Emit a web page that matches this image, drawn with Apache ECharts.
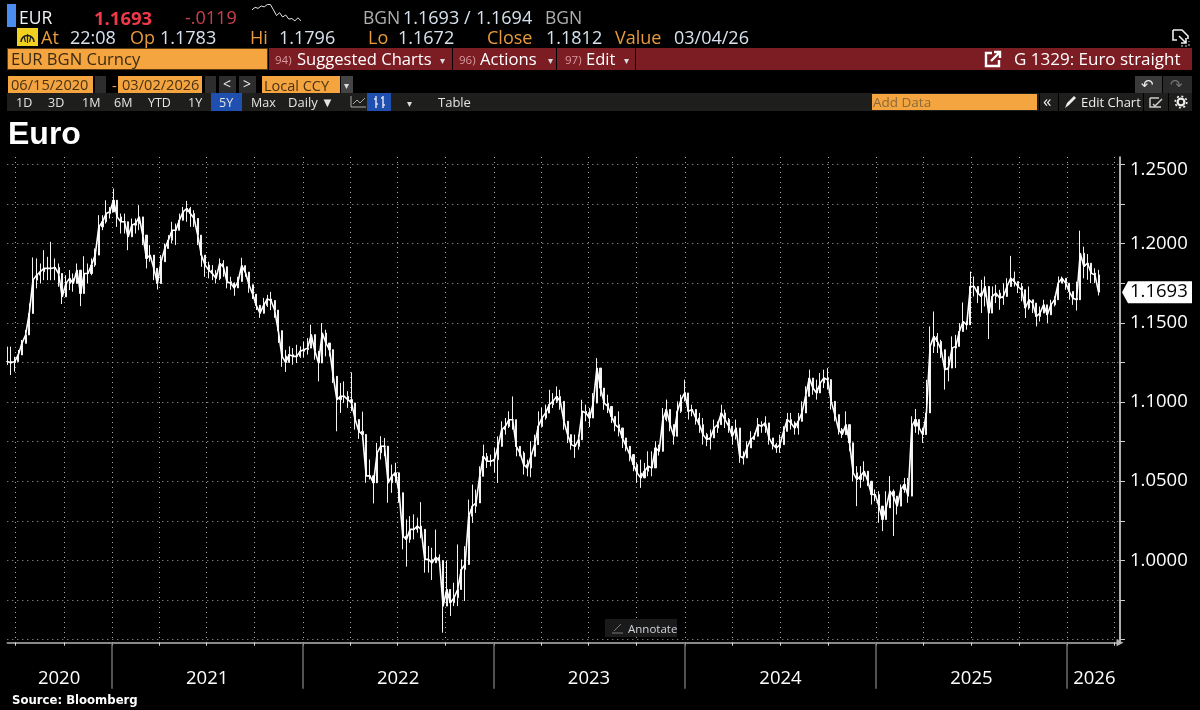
<!DOCTYPE html>
<html>
<head>
<meta charset="utf-8">
<title>Euro</title>
<script src="https://cdn.jsdelivr.net/npm/echarts@6/dist/echarts.min.js"></script>
<style>
    html, body { margin: 0; padding: 0; background: #000; }
    #chart { position: absolute; left: 0; top: 0; width: 1200px; height: 710px; }
    #chrome { position: absolute; left: 0; top: 0; width: 1200px; height: 710px; font-family: "Open Sans", sans-serif; pointer-events: none; }
    #chrome div { position: absolute; white-space: nowrap; }
    #chrome svg { position: absolute; }
</style>
</head>
<body>
<div id="chart"></div>
<div id="chrome"></div>
<script>
// weekly bars, 06/15/2020 to 03/02/2026
var weekHigh = [
    1.1349,1.1349,1.1286,1.1328,1.1391,1.1454,1.1622,1.1912,1.1906,1.1874,1.1958,1.1916,1.2011,1.1906,1.1874,1.1748,1.18,1.1832,1.1811,1.1874,
    1.1811,1.192,1.1874,1.1906,1.1969,1.2179,1.2179,1.2273,1.2231,1.2347,1.2252,1.2189,1.2189,1.2126,1.2158,1.2158,1.2242,1.2126,1.199,1.199,
    1.1906,1.1811,1.1927,1.2,1.2053,1.2137,1.2126,1.2189,1.2231,1.2269,1.2231,1.221,1.2105,1.1979,1.1927,1.1885,1.1864,1.1832,1.1906,1.1895,1.1811,
    1.179,1.1755,1.179,1.191,1.1853,1.1815,1.172,1.1664,1.16,1.1657,1.1676,1.1695,1.1626,1.1537,1.1373,1.1329,
    1.1351,1.134,1.1361,1.1351,1.1382,1.1403,1.1488,1.1372,1.1309,1.1498,1.1456,1.1372,1.1288,1.112,1.112,1.113,1.1068,1.1187,1.0942,1.0868,
    1.0939,1.0647,1.0637,1.0532,1.0742,1.0784,1.0773,1.0532,1.0605,1.0616,1.0469,1.0217,1.0259,1.028,1.0291,1.027,1.0368,1.0049,1.0091,1.008,1.0195,1.0038,
    0.988,1.0,0.9796,0.9859,1.0101,1.0006,1.009,1.0384,1.0479,1.0447,1.0594,1.0731,1.0678,1.0668,1.071,1.0783,1.0878,1.0899,1.0941,1.1035,
    1.0804,1.071,1.0689,1.0636,1.0752,1.0794,1.0941,1.0962,1.0983,1.1077,1.1056,1.1098,1.1077,1.093,1.0846,1.0773,1.0794,1.0794,1.1014,1.0983,
    1.0962,1.1056,1.1277,1.1161,1.1067,1.1046,1.0951,1.0909,1.0941,1.0825,1.0762,1.071,1.0647,1.0615,1.0636,1.0615,1.0689,1.0689,1.0752,1.0731,
    1.0962,1.1015,1.092,1.0836,1.1004,1.1046,1.1141,1.1004,1.0983,1.0941,1.0931,1.0899,1.0805,1.0826,1.0889,1.0878,1.0983,1.0952,1.0899,1.0847,
    1.0889,1.0742,1.0689,1.0752,1.0815,1.0805,1.0899,1.0878,1.091,1.0857,1.0763,1.0742,1.0794,1.0847,1.0931,1.0931,1.0878,1.0931,1.1004,1.1099,
    1.1204,1.1152,1.1141,1.1183,1.1204,1.1214,1.1057,1.0962,1.0878,1.0836,1.0941,1.0805,1.0605,1.0595,1.0595,1.0626,1.0532,1.0458,1.0448,1.0437,
    1.0343,1.0437,1.0532,1.0448,1.0406,1.0479,1.0521,1.0521,1.091,1.0956,1.0878,1.0836,1.114,1.1477,1.1571,1.1435,1.1393,1.133,1.1288,1.1414,
    1.1424,1.1498,1.1628,1.1508,1.1823,1.1792,1.1729,1.1771,1.1792,1.1603,1.1729,1.174,1.1708,1.175,1.1781,1.1922,1.1823,1.176,1.175,1.1645,
    1.1729,1.1645,1.1603,1.1603,1.1645,1.1613,1.1645,1.1666,1.1792,1.1792,1.1781,1.175,1.1697,1.176,1.2081,1.198,1.1934,1.1876,1.1844,1.1834
];
var weekLow = [
    1.1234,1.117,1.1192,1.1255,1.1318,1.137,1.1475,1.1706,1.1717,1.1748,1.1769,1.1769,1.1769,1.1769,1.1727,1.1618,1.1685,1.1706,1.1696,1.1748,
    1.1605,1.1727,1.1748,1.18,1.1853,1.1969,1.2084,1.2126,1.2158,1.221,1.2105,1.2063,1.2063,1.1958,1.2042,1.2063,1.2084,1.199,1.1843,1.1885,
    1.1769,1.171,1.179,1.1895,1.199,1.2,1.199,1.2105,1.2158,1.2137,1.2105,1.2105,1.199,1.1853,1.179,1.178,1.1769,1.1748,1.1769,1.179,1.1717,
    1.1708,1.167,1.1727,1.1815,1.179,1.1689,1.165,1.158,1.1531,1.1569,1.16,1.158,1.1531,1.1373,1.1222,1.119,
    1.1246,1.1235,1.1246,1.1278,1.1283,1.1299,1.1372,1.1267,1.113,1.1372,1.1288,1.1288,1.112,1.0815,1.0931,1.0994,1.0963,1.0942,1.0826,1.0767,
    1.0763,1.049,1.0511,1.036,1.0553,1.0637,1.0658,1.0364,1.0427,1.049,1.0364,1.007,0.9961,1.0112,1.0133,1.0175,1.014,0.9923,0.9923,0.9877,0.9985,0.9964,
    0.9544,0.9712,0.9649,0.9712,0.9712,0.9859,0.9744,1.0216,1.0237,1.03,1.0447,1.0531,1.0584,1.0594,1.0552,1.0489,1.0762,1.0794,1.0836,1.0825,
    1.0657,1.0657,1.0542,1.0531,1.0525,1.0657,1.0762,1.0857,1.0888,1.0941,1.0962,1.0993,1.0951,1.0825,1.0741,1.0699,1.0647,1.0699,1.0846,1.0878,
    1.0842,1.093,1.1119,1.1035,1.0951,1.093,1.0867,1.0815,1.0783,1.071,1.0689,1.0626,1.0563,1.0489,1.0458,1.0521,1.0531,1.0531,1.0668,1.0662,
    1.0836,1.0878,1.0815,1.0731,1.0878,1.0931,1.1004,1.0889,1.091,1.0857,1.0805,1.0731,1.0721,1.07,1.0805,1.0805,1.0878,1.0836,1.0805,1.0731,
    1.0763,1.0616,1.0605,1.0658,1.071,1.0763,1.0815,1.0805,1.0805,1.0731,1.07,1.0679,1.0679,1.0773,1.0847,1.0826,1.0794,1.0794,1.0889,1.0962,
    1.1078,1.1046,1.1015,1.1067,1.1088,1.1078,1.0952,1.0878,1.0794,1.0773,1.0805,1.0689,1.05,1.0343,1.0458,1.05,1.0469,1.0353,1.0374,1.0238,
    1.0185,1.028,1.0385,1.0154,1.029,1.0385,1.0427,1.0364,1.0763,1.0805,1.0794,1.0742,1.0794,1.1246,1.1309,1.1309,1.1278,1.1078,1.113,1.1288,
    1.1214,1.1382,1.1477,1.1456,1.1582,1.1666,1.1624,1.1561,1.1603,1.1397,1.1603,1.1624,1.1582,1.1613,1.1687,1.175,1.1729,1.1687,1.1635,1.153,
    1.1582,1.1561,1.1477,1.1508,1.1561,1.1498,1.1582,1.1603,1.1687,1.175,1.1708,1.1645,1.1613,1.1577,1.1771,1.1781,1.1771,1.175,1.175,1.1672
];
var weekClose = [
    1.1255,1.1248,1.1255,1.1297,1.137,1.1423,1.1559,1.1769,1.18,1.1822,1.1843,1.1843,1.1843,1.1849,1.1811,1.1664,1.1748,1.178,1.1748,1.1832,
    1.1685,1.1811,1.1811,1.1864,1.1927,1.2105,1.2137,1.2189,1.22,1.2273,1.2168,1.2137,1.2137,1.2042,1.2116,1.2126,1.2168,1.2053,1.1906,1.1927,
    1.1843,1.1748,1.1885,1.1969,1.2021,1.2084,1.2084,1.2147,1.22,1.2221,1.2189,1.2158,1.2053,1.1927,1.1864,1.1832,1.1811,1.178,1.1874,1.1853,1.1759,
    1.175,1.172,1.176,1.186,1.182,1.174,1.168,1.161,1.156,1.161,1.165,1.164,1.158,1.145,1.129,1.125,
    1.1299,1.1288,1.1288,1.132,1.133,1.134,1.1425,1.132,1.1246,1.1435,1.1372,1.133,1.1162,1.1015,1.1036,1.1036,1.1015,1.0994,1.0889,1.0815,
    1.0795,1.0534,1.0534,1.049,1.0679,1.0721,1.0721,1.049,1.0532,1.0553,1.0427,1.0154,1.0133,1.0196,1.0196,1.0217,1.0196,1.0007,1.0007,0.9985,1.002,1.0,
    0.9712,0.9817,0.9733,0.9765,0.9817,0.9943,0.9975,1.0279,1.0342,1.0363,1.0531,1.0657,1.0626,1.0626,1.0636,1.072,1.0825,1.0846,1.0888,1.0888,
    1.072,1.0678,1.0605,1.0584,1.0657,1.0731,1.0846,1.0899,1.093,1.0983,1.1004,1.1035,1.1004,1.0878,1.0794,1.0731,1.072,1.0762,1.0941,1.093,
    1.0899,1.0993,1.1214,1.1088,1.0993,1.0972,1.0909,1.0857,1.0836,1.0773,1.072,1.0668,1.0605,1.0552,1.0521,1.0563,1.0594,1.0584,1.071,1.0689,
    1.0889,1.0952,1.0857,1.0784,1.0941,1.1015,1.1057,1.0941,1.0952,1.0899,1.0857,1.0794,1.0763,1.0773,1.0836,1.0857,1.0931,1.0889,1.0847,1.0784,
    1.0836,1.0658,1.0647,1.071,1.0763,1.0784,1.0857,1.0847,1.0868,1.0773,1.0731,1.071,1.0731,1.0815,1.0889,1.0868,1.0836,1.0878,1.0931,1.1036,
    1.1151,1.1088,1.1057,1.112,1.1151,1.1141,1.1004,1.092,1.0826,1.0794,1.0857,1.0742,1.0553,1.0511,1.0532,1.0563,1.05,1.0416,1.0416,1.0343,
    1.0259,1.0332,1.0437,1.0406,1.0343,1.0448,1.0479,1.0406,1.0847,1.0889,1.0836,1.0794,1.0931,1.1351,1.1414,1.1382,1.133,1.1204,1.1214,1.134,
    1.1351,1.1445,1.1508,1.1487,1.1729,1.1729,1.1687,1.1666,1.1729,1.1561,1.1666,1.1687,1.1656,1.1666,1.1729,1.1781,1.176,1.1729,1.1708,1.1593,
    1.1645,1.1624,1.154,1.1561,1.1613,1.155,1.1613,1.1645,1.175,1.1781,1.175,1.1697,1.1655,1.1645,1.1939,1.1855,1.1876,1.1813,1.1802,1.1693
];
var lastPrice = 1.1693;
var sparkValues = [1.1757,1.1775,1.1768,1.1785,1.1779,1.1796,1.1796,1.1757,1.1715,1.1736,1.1704,1.1719,1.1689,1.1693,1.1676,1.1698,1.1676];

var yTickValues = [0.95,0.975,1.0,1.025,1.05,1.075,1.1,1.125,1.15,1.175,1.2,1.225,1.25];
var yLabelValues = [1.0,1.05,1.1,1.15,1.2,1.25];
var quarterTicks = ['2020-07-01','2020-10-01','2021-01-01','2021-04-01','2021-07-01','2021-10-01','2022-01-01','2022-04-01','2022-07-01','2022-10-01',
    '2023-01-01','2023-04-01','2023-07-01','2023-10-01','2024-01-01','2024-04-01','2024-07-01','2024-10-01','2025-01-01','2025-04-01','2025-07-01','2025-10-01','2026-01-01','2026-04-01'];
var yearTicks = ['2021-01-01','2022-01-01','2023-01-01','2024-01-01','2025-01-01','2026-01-01'];
var yearLabelDates = ['2020-09-22','2021-07-02','2022-07-02','2023-07-02','2024-07-02','2025-07-02','2026-02-22'];

function toMs(s) { return new Date(s + 'T00:00:00Z').getTime(); }

var firstWeek = toMs('2020-06-15');
var lastDay = toMs('2026-04-12');
var bars = weekClose.map(function (c, i) {
    var open = i ? weekClose[i - 1] : c;
    return [firstWeek + i * 7 * 86400000, open, c, weekLow[i], weekHigh[i]];
});
var closeLine = bars.map(function (b) { return [b[0], b[2]]; });

var gridDots = { show: true, lineStyle: { color: '#a8a8a8', width: 1, type: [1, 4] } };

var myChart = echarts.init(document.getElementById('chart'));
myChart.setOption({
    backgroundColor: '#000',
    animation: false,
    title: [
        { text: 'Euro', left: 8, top: 119, padding: 0, textStyle: { color: '#fff', fontSize: 32, fontWeight: 'bold', fontFamily: 'Liberation Sans' } },
        { text: 'Source: Bloomberg', left: 12, top: 695, padding: 0, textStyle: { color: '#fff', fontSize: 11.7, fontWeight: 'bold', fontFamily: 'DejaVu Sans' } }
    ],
    grid: [
        { left: 7.3, right: 80, top: 157, bottom: 67.3 },
        { left: 252, width: 49, top: 4, height: 19 }
    ],
    xAxis: [
        {
            type: 'value', gridIndex: 0, min: firstWeek, max: lastDay,
            axisLine: { onZero: false, lineStyle: { color: '#b5b5b5', width: 1.5 }, symbol: ['none', 'triangle'], symbolSize: [7, 7] },
            axisTick: { show: true, length: 3, lineStyle: { color: '#ddd' }, customValues: quarterTicks.map(toMs) },
            axisLabel: { show: false },
            splitLine: gridDots
        },
        {
            type: 'value', gridIndex: 0, position: 'bottom', min: firstWeek, max: lastDay,
            axisLine: { show: false, onZero: false },
            axisTick: { show: true, length: 46, lineStyle: { color: '#6e6e6e', width: 1.5 }, customValues: yearTicks.map(toMs) },
            axisLabel: {
                show: true, margin: 27, color: '#fff', fontSize: 18.5, fontFamily: 'Open Sans',
                customValues: yearLabelDates.map(toMs),
                formatter: function (v) { return String(new Date(v).getUTCFullYear()); }
            },
            splitLine: { show: false }
        },
        { type: 'category', gridIndex: 1, show: false, boundaryGap: false, data: sparkValues.map(function (v, i) { return i; }) }
    ],
    yAxis: [
        {
            type: 'value', gridIndex: 0, position: 'right', min: 0.9481, max: 1.2546,
            axisLine: { show: true, onZero: false, lineStyle: { color: '#e8e8e8', width: 1.5 } },
            axisTick: { show: true, length: 5, lineStyle: { color: '#ccc' }, customValues: yTickValues },
            axisLabel: {
                show: true, margin: 10, color: '#fff', fontSize: 18.5, fontFamily: 'Open Sans',
                customValues: yLabelValues,
                formatter: function (v) {
                    var s = v.toFixed(4);
                    return v === 1.25 ? '{top|' + s + '}' : s;
                },
                rich: { top: { padding: [11, 0, 0, 0], color: '#fff', fontSize: 18.5, fontFamily: 'Open Sans' } }
            },
            splitLine: gridDots
        },
        { type: 'value', gridIndex: 1, show: false, scale: true, splitLine: { show: false } }
    ],
    series: [
        {
            name: 'EUR close', type: 'line', xAxisIndex: 0, yAxisIndex: 0, symbol: 'none',
            lineStyle: { color: '#fff', width: 1.6 }, data: closeLine
        },
        {
            name: 'EUR', type: 'candlestick', xAxisIndex: 0, yAxisIndex: 0,
            barWidth: 1.6,
            encode: { x: 0, y: [1, 2, 3, 4] },
            itemStyle: { color: '#fff', color0: '#fff', borderColor: '#f2f2f2', borderColor0: '#f2f2f2', borderWidth: 1 },
            data: bars
        },
        {
            // last price flag on the value axis
            name: 'last', type: 'custom', xAxisIndex: 0, yAxisIndex: 0, clip: false, z: 5,
            data: [[bars[bars.length - 1][0], lastPrice]],
            encode: { x: 0, y: 1 },
            renderItem: function (params, api) {
                var p = api.coord([api.value(0), api.value(1)]);
                var y = p[1];
                return {
                    type: 'group',
                    children: [
                        { type: 'polygon', shape: { points: [[1122, y], [1128, y - 11], [1192, y - 11], [1192, y + 11], [1128, y + 11]] }, style: { fill: '#fff' } },
                        { type: 'text', x: 1130, y: y, style: { text: api.value(1).toFixed(4), fill: '#000', font: '18.5px "Open Sans"', verticalAlign: 'middle' } }
                    ]
                };
            }
        },
        {
            name: 'spark', type: 'line', xAxisIndex: 2, yAxisIndex: 1, symbol: 'none',
            lineStyle: { color: '#e6e6e6', width: 1 }, data: sparkValues
        }
    ]
});

// terminal header above the chart
var orange = '#f4a540', gold = '#e89a3c', light = '#d7e2ee', dim = '#b0b0b0';
var chrome = document.getElementById('chrome');
function box(x, y, w, h, bg) {
    var d = document.createElement('div');
    d.style.cssText = 'left:' + x + 'px;top:' + y + 'px;width:' + w + 'px;height:' + h + 'px;background:' + bg;
    chrome.appendChild(d);
}
function txt(s, x, cy, size, color, weight) {
    var d = document.createElement('div');
    d.textContent = s;
    d.style.cssText = 'left:' + x + 'px;top:' + (cy - size) + 'px;line-height:' + (size * 2) + 'px;font-size:' + size + 'px;color:' + color + ';font-weight:' + (weight || 400);
    chrome.appendChild(d);
}
function svg(x, y, w, h, body) {
    chrome.insertAdjacentHTML('beforeend', '<svg style="left:' + x + 'px;top:' + y + 'px" width="' + w + '" height="' + h + '" viewBox="0 0 ' + w + ' ' + h + '">' + body + '</svg>');
}

// row 1
box(7, 4, 9, 23, '#4a8cf0');
txt('EUR', 19, 17, 17.5, '#eef3f8');
txt('1.1693', 94, 17, 18.5, '#f0384a', 700);
txt('-.0119', 185, 17, 18, '#c9404c');
txt('BGN', 363, 17, 17.5, dim);
txt('1.1693', 403, 17, 18, light);
txt('/', 464, 17, 18, light);
txt('1.1694', 476, 17, 18, light);
txt('BGN', 545, 17, 17.5, dim);

// row 2
box(17, 28, 21, 18, '#f2d020');
svg(17, 28, 21, 18, '<path d="M4 14a6.5 6.5 0 1 1 13 0" fill="none" stroke="#222" stroke-width="1.6"/><path d="M10.5 6v9M7 8l1.5 6M14 8l-1.5 6" stroke="#222" stroke-width="1.2"/>');
var quoteRow = [['At', 41, gold], ['22:08', 70, light], ['Op', 130, gold], ['1.1783', 160, light], ['Hi', 250, gold], ['1.1796', 279, light],
    ['Lo', 368, gold], ['1.1672', 398, light], ['Close', 487, gold], ['1.1812', 546, light], ['Value', 615, gold], ['03/04/26', 674, light]];
quoteRow.forEach(function (q) { txt(q[0], q[1], 37, 18, q[2]); });
svg(1171, 28, 20, 20, '<path d="M2 2h9l6 6v3M2 2v10h4M8 8l7 7M15 10v5h-5" fill="none" stroke="#eee" stroke-width="1.6"/><path d="M10 18h8v-5" fill="none" stroke="#ccc" stroke-dasharray="2 2"/>');

// row 3
box(7, 48, 261, 22, '#5a3a12');
box(8, 49, 259, 20, orange);
box(269, 48, 923, 22, '#7c1d24');
box(452, 48, 1, 22, '#000');
box(556, 48, 1, 22, '#000');
box(635, 48, 1, 22, '#000');
txt('EUR BGN Curncy', 11, 59, 16.6, '#3a2a10');
txt('94)', 275, 59, 11.5, '#d79aa0');
txt('Suggested Charts', 297, 59, 16.6, '#fff');
txt('▾', 440, 60, 10, '#ddd');
txt('96)', 459, 59, 11.5, '#d79aa0');
txt('Actions', 480, 59, 16.6, '#fff');
txt('▾', 548, 60, 10, '#ddd');
txt('97)', 565, 59, 11.5, '#d79aa0');
txt('Edit', 586, 59, 16.6, '#fff');
txt('▾', 624, 60, 10, '#ddd');
svg(984, 50, 18, 18, '<path d="M8 3H2v13h13v-6" fill="none" stroke="#fff" stroke-width="2.4"/><path d="M7 11l8-8M10 2h6v6" fill="none" stroke="#fff" stroke-width="2.4"/>');
txt('G 1329: Euro straight', 1014, 59, 17, '#fff');

// row 4
box(8, 76, 85, 17, orange);
box(118, 76, 84, 17, orange);
box(262, 76, 78, 17, orange);
txt('06/15/2020', 11, 85, 14.6, '#4a3214');
box(95, 76, 11, 17, '#2d2d2d');
txt('-', 112, 85, 15, orange);
txt('03/02/2026', 122, 85, 14.6, '#4a3214');
box(205, 76, 11, 17, '#2d2d2d');
box(219, 76, 17, 17, '#2d2d2d');
box(239, 76, 17, 17, '#2d2d2d');
txt('<', 223, 84, 14, '#eee');
txt('>', 243, 84, 14, '#eee');
txt('Local CCY', 264, 85, 14.5, '#4a3214');
box(341, 76, 12, 17, '#444');
txt('▾', 344, 85, 10, '#ddd');
box(1135, 76, 27, 17, '#3a3a3a');
box(1163, 76, 29, 17, '#2a2a2a');
txt('↶', 1141, 84, 15, '#eee');
txt('↷', 1170, 84, 15, '#777');

// row 5
box(7, 93, 1185, 18, '#1e1e1c');
var ranges = [['1D', 16], ['3D', 48], ['1M', 82], ['6M', 114], ['YTD', 148], ['1Y', 188], ['5Y', 219], ['Max', 251]];
box(211, 93, 31, 18, '#1f50b0');
box(367, 93, 24, 18, '#1f50b0');
ranges.forEach(function (r) { txt(r[0], r[1], 102, 12.5, '#e4e4e4'); });
txt('Daily ▼', 288, 102, 13, '#e4e4e4');
svg(350, 95, 18, 14, '<path d="M1 1v11h15M3 9l4-4 3 3 5-5" fill="none" stroke="#aaa" stroke-width="1"/>');
svg(372, 95, 16, 14, '<path d="M4 1v12M11 1v12M2 4h2M4 9h2M9 3h2M11 10h2" stroke="#dde" stroke-width="1.5"/>');
txt('▾', 407, 103, 10, '#ddd');
txt('Table', 438, 102, 13, '#e4e4e4');
box(872, 94, 165, 16, orange);
txt('Add Data', 873, 102, 13.5, '#8a6a3a');
txt('«', 1043, 101, 17, '#eee');
box(1039, 93, 1, 18, '#000');
box(1058, 93, 1, 18, '#000');
svg(1063, 95, 16, 15, '<path d="M2 13l2-5 7-7 2 2-7 7z" fill="#eee"/>');
txt('Edit Chart', 1081, 102, 13, '#eee');
box(1143, 93, 1, 18, '#000');
svg(1149, 96, 16, 13, '<path d="M1 2h9M1 2v9h11M4 8l2 2 7-7" fill="none" stroke="#ccc" stroke-width="1.5"/>');
box(1168, 93, 1, 18, '#000');
svg(1173, 95, 16, 14, '<circle cx="8" cy="7" r="3.4" fill="none" stroke="#eee" stroke-width="2.2"/><circle cx="8" cy="7" r="5.8" fill="none" stroke="#eee" stroke-width="1.6" stroke-dasharray="2 2.5"/>');

// annotate button inside the plot
box(605, 619, 72, 18, '#1a1a1a');
svg(611, 622, 14, 12, '<path d="M1 11h11M3 9l7-7" stroke="#777" stroke-width="1"/>');
txt('Annotate', 628, 628, 11.5, '#cdd4dc');
</script>
</body>
</html>
